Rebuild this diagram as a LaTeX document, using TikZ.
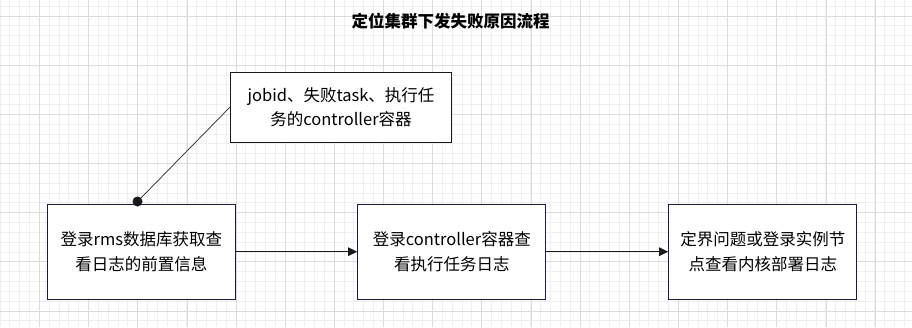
\documentclass[tikz,border=0pt]{standalone}
\usepackage{fontspec}
\usetikzlibrary{arrows.meta}
\newfontfamily\cjk{Noto Sans CJK SC}
\definecolor{gridminor}{HTML}{EFEFEF}
\definecolor{gridmajor}{HTML}{DCDCDC}
\definecolor{boxline}{HTML}{1B1B45}

\tikzset{
  stepbox/.style={draw=boxline, fill=white, line width=1.2pt, minimum width=188pt, minimum height=95pt,
    align=center, inner sep=0pt, font=\cjk\fontsize{16.5}{24.5}\selectfont},
  flow/.style={-{Triangle[length=9pt,width=8.5pt]}, line width=1.1pt, draw=black!90},
}

\begin{document}
\begin{tikzpicture}[x=1pt,y=-1pt]
        \useasboundingbox (0,0) rectangle (912,327);
        \fill[white] (0,0) rectangle (912,327);
        % grid
        \foreach \i in {0,...,92} {
                \draw[gridminor,line width=0.8pt] ({\i*9.83},0) -- ({\i*9.83},327);
        }
        \foreach \i in {0,...,33} {
                \draw[gridminor,line width=0.8pt] (0,{6.17+\i*9.83}) -- (912,{6.17+\i*9.83});
        }
        \foreach \i in {0,...,18} {
                \draw[gridmajor,line width=0.8pt] ({39.5+\i*49.15},0) -- ({39.5+\i*49.15},327);
        }
        \foreach \i in {0,...,6} {
                \draw[gridmajor,line width=0.8pt] (0,{16+\i*49.15}) -- (912,{16+\i*49.15});
        }

        \node (title) at (450.5,21.5) {\cjk\bfseries\fontsize{16.5}{20}\selectfont 定位集群下发失败原因流程};

        \node[stepbox] (rms) at (141.3,251.7) {登录rms数据库获取查\\看日志的前置信息};
        \node[stepbox] (ctrl) at (451.8,251.7) {登录controller容器查\\看执行任务日志};
        \node[stepbox] (node) at (762.8,251.7) {定界问题或登录实例节\\点查看内核部署日志};

        \node[stepbox, draw=black!90, minimum width=221pt, minimum height=70pt] (note) at (341,107.2)
                {jobid、失败task、执行任\\务的controller容器};

        \coordinate (pin) at (137.5,201.5);
        \draw[black!85, line width=0.7pt] (pin) -- (note.west);
        \fill[black!90] (pin) circle (5pt);

        \draw[flow] (rms) -- (ctrl);
        \draw[flow] (ctrl) -- (node);
\end{tikzpicture}
\end{document}
